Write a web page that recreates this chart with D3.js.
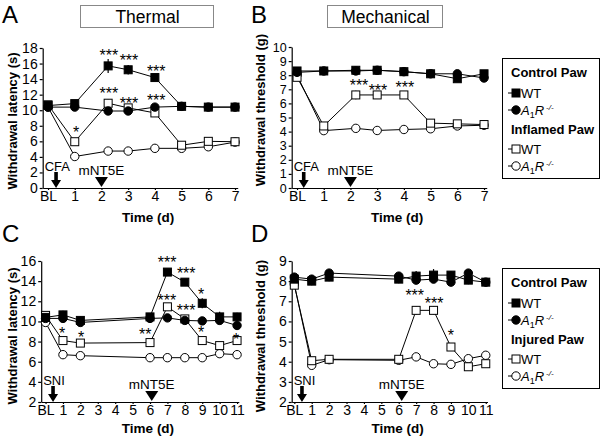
<!DOCTYPE html>
<html><head><meta charset="utf-8">
<script src="https://cdn.jsdelivr.net/npm/d3@7"></script>
<style>
body{margin:0;background:#fff}
svg{font-family:"Liberation Sans",Arial,Helvetica,sans-serif}
</style></head><body>
<svg id="c" width="600" height="440"></svg>
<script>
// ---------- DATA ----------
const tickLabels7 = ["BL","1","2","3","4","5","6","7"];
const tickLabels11 = ["BL","1","2","3","4","5","6","7","8","9","10","11"];

// Panel A (Thermal, CFA) — withdrawal latency (s)
const daysA = [0, 1, 2.25, 3, 4, 5, 6, 7];
const A_ctrlWT = [10.6, 10.85, 15.7, 15.2, 14.2, 10.5, 10.4, 10.4];
const A_ctrlKO = [10.4, 10.4, 9.9, 9.9, 10.4, 10.5, 10.4, 10.4];
const A_inflWT = [10.7, 5.95, 10.9, 10.3, 9.65, 5.5, 6.0, 5.95];
const A_inflKO = [10.4, 4.05, 4.75, 4.75, 5.1, 5.1, 5.3, 5.9];
const A_ctrlWT_err = [0.3, 0.4, 0.9, 0.6, 0.4, 0.3, 0.3, 0.3];
const A_ctrlKO_err = [0.2, 0.3, 0.3, 0.3, 0.3, 0.2, 0.2, 0.2];
const A_inflWT_err = [0.2, 0.4, 0.5, 0.5, 0.4, 0.3, 0.3, 0.3];
const A_inflKO_err = [0.2, 0.2, 0.2, 0.2, 0.2, 0.2, 0.2, 0.2];

// Panel B (Mechanical, CFA) — withdrawal threshold (g)
const daysB = [0, 1, 2.2, 3, 4, 5, 6, 7];
const B_ctrlWT = [8.3, 8.3, 8.35, 8.35, 8.25, 8.1, 7.75, 8.1];
const B_ctrlKO = [8.2, 8.3, 8.3, 8.35, 8.25, 8.1, 8.1, 7.8];
const B_inflWT = [7.85, 4.4, 6.6, 6.6, 6.6, 4.6, 4.55, 4.5];
const B_inflKO = [8.0, 4.07, 4.23, 4.08, 4.15, 4.2, 4.4, 4.45];
const B_ctrlWT_err = [0.15, 0.15, 0.15, 0.15, 0.15, 0.2, 0.2, 0.2];
const B_ctrlKO_err = [0.15, 0.15, 0.15, 0.15, 0.15, 0.2, 0.2, 0.2];
const B_inflWT_err = [0.15, 0.15, 0.3, 0.15, 0.15, 0.15, 0.15, 0.15];
const B_inflKO_err = [0.1, 0.1, 0.1, 0.1, 0.1, 0.1, 0.1, 0.1];

// Panel C (Thermal, SNI) — withdrawal latency (s)
const daysC = [0, 1, 2, 6, 7, 8, 9, 10, 11];
const C_ctrlWT = [10.4, 10.65, 10.1, 10.45, 14.9, 13.9, 11.8, 10.45, 10.45];
const C_ctrlKO = [10.3, 10.3, 9.9, 10.3, 10.35, 10.1, 10.05, 10.1, 9.6];
const C_injWT = [10.6, 8.1, 7.85, 7.9, 11.45, 10.25, 8.1, 7.6, 8.1];
const C_injKO = [9.9, 6.7, 6.6, 6.4, 6.4, 6.4, 6.4, 6.8, 6.7];
const C_ctrlWT_err = [0.3, 0.4, 0.4, 0.3, 0.3, 0.3, 0.5, 0.5, 0.4];
const C_ctrlKO_err = [0.3, 0.3, 0.3, 0.3, 0.3, 0.3, 0.4, 0.4, 0.4];
const C_injWT_err = [0.3, 0.3, 0.3, 0.3, 0.3, 0.3, 0.4, 0.3, 0.4];
const C_injKO_err = [0.2, 0.3, 0.2, 0.2, 0.4, 0.2, 0.2, 0.4, 0.3];

// Panel D (Mechanical, SNI) — withdrawal threshold (g)
const daysD = [0, 1, 2, 6, 7, 8, 9, 10, 11];
const D_ctrlWT = [8.1, 8.0, 8.2, 8.1, 8.25, 8.3, 8.3, 8.05, 7.95];
const D_ctrlKO = [8.2, 8.1, 8.4, 8.25, 8.05, 8.1, 7.95, 8.4, 7.95];
const D_injWT = [7.8, 4.05, 4.12, 4.12, 6.55, 6.55, 4.73, 3.75, 3.9];
const D_injKO = [7.85, 3.82, 4.1, 4.07, 4.24, 3.9, 3.87, 4.15, 4.32];
const D_ctrlWT_err = [0.2, 0.2, 0.2, 0.2, 0.25, 0.3, 0.2, 0.2, 0.2];
const D_ctrlKO_err = [0.2, 0.2, 0.2, 0.2, 0.2, 0.2, 0.2, 0.2, 0.2];
const D_injWT_err = [0.1, 0.1, 0.1, 0.1, 0.2, 0.2, 0.2, 0.15, 0.1];
const D_injKO_err = [0.1, 0.1, 0.1, 0.1, 0.1, 0.1, 0.1, 0.1, 0.1];

// significance annotations [x(day), y(value), text]
const A_stars = [[2.28,17.5,"***"],[3.03,16.8,"***"],[4.05,15.4,"***"],[2.28,12.6,"***"],[3.03,11.3,"***"],[4.05,11.7,"***"],[1.05,7.6,"*"]];
const B_stars = [[2.32,7.5,"***"],[3.03,7.13,"***"],[4.04,7.38,"***"]];
const C_stars = [[0.95,9.15,"*"],[2.04,8.75,"*"],[5.72,9.05,"**"],[6.98,16.2,"***"],[8.08,15.1,"***"],[6.97,12.4,"***"],[8.07,11.43,"***"],[8.94,13.0,"*"],[8.94,9.25,"*"],[10.95,8.55,"*"]];
const D_stars = [[6.92,7.45,"***"],[8.03,7.05,"***"],[9.0,5.5,"*"]];

// ---------- DRAWING ----------
const svg = d3.select("#c");

function mk(vals, err, shape, filled){ return {vals, err, shape, filled}; }

const panels = [
 {letter:"A", lx:2, days:daysA, xDomain:[-0.2,7.1], xRange:[42.7,237.7], yDomain:[0,18], yRange:[188,48], yFs:14,
  yTicks:d3.range(0,19,2), xTicks:d3.range(0,8), xLabels:tickLabels7, yTitle:"Withdrawal latency (s)", ytX:12, ytY:121,
  series:[mk(A_inflKO,A_inflKO_err,"c",false),mk(A_inflWT,A_inflWT_err,"s",false),mk(A_ctrlKO,A_ctrlKO_err,"c",true),mk(A_ctrlWT,A_ctrlWT_err,"s",true)],
  stars:A_stars, induce:"CFA", induceX:0.3, drugX:2.0},
 {letter:"B", lx:251, days:daysB, xDomain:[-0.2,7.1], xRange:[291.7,486.7], yDomain:[0,10], yRange:[188,47], yFs:12.5,
  yTicks:d3.range(0,11,1), xTicks:d3.range(0,8), xLabels:tickLabels7, yTitle:"Withdrawal threshold (g)", ytX:260, ytY:110,
  series:[mk(B_inflKO,B_inflKO_err,"c",false),mk(B_inflWT,B_inflWT_err,"s",false),mk(B_ctrlKO,B_ctrlKO_err,"c",true),mk(B_ctrlWT,B_ctrlWT_err,"s",true)],
  stars:B_stars, induce:"CFA", induceX:0.25, drugX:2.0},
 {letter:"C", lx:2, days:daysC, xDomain:[-0.25,11.1], xRange:[41.2,238.8], yDomain:[2,16], yRange:[402,261], yFs:14,
  yTicks:d3.range(2,17,2), xTicks:d3.range(0,12), xLabels:tickLabels11, yTitle:"Withdrawal latency (s)", ytX:12, ytY:336,
  series:[mk(C_injKO,C_injKO_err,"c",false),mk(C_injWT,C_injWT_err,"s",false),mk(C_ctrlKO,C_ctrlKO_err,"c",true),mk(C_ctrlWT,C_ctrlWT_err,"s",true)],
  stars:C_stars, induce:"SNI", induceX:0.43, drugX:6.1},
 {letter:"D", lx:251, days:daysD, xDomain:[-0.15,11.1], xRange:[291.7,487.5], yDomain:[2,9], yRange:[402,261], yFs:14,
  yTicks:d3.range(2,10,1), xTicks:d3.range(0,12), xLabels:tickLabels11, yTitle:"Withdrawal threshold (g)", ytX:260, ytY:336,
  series:[mk(D_injKO,D_injKO_err,"c",false),mk(D_injWT,D_injWT_err,"s",false),mk(D_ctrlKO,D_ctrlKO_err,"c",true),mk(D_ctrlWT,D_ctrlWT_err,"s",true)],
  stars:D_stars, induce:"SNI", induceX:0.44, drugX:6.17}
];

function drawMarker(sel, shape, filled){
  if(shape==="s"){
    sel.append("rect").attr("x",-4).attr("y",-4).attr("width",8).attr("height",8)
      .attr("fill",filled?"#000":"#fff").attr("stroke","#000").attr("stroke-width",1);
  } else {
    sel.append("circle").attr("r",4.2)
      .attr("fill",filled?"#000":"#fff").attr("stroke","#000").attr("stroke-width",1);
  }
}

panels.forEach(p=>{
  const x = d3.scaleLinear().domain(p.xDomain).range(p.xRange);
  const y = d3.scaleLinear().domain(p.yDomain).range(p.yRange);
  const g = svg.append("g");
  const base = p.yRange[0];

  // panel letter
  g.append("text").attr("x",p.lx).attr("y",base<300?23:242).attr("font-size",24).text(p.letter);

  // axes
  const ya = g.append("g").attr("transform",`translate(${p.xRange[0]},0)`)
    .call(d3.axisLeft(y).tickValues(p.yTicks).tickFormat(d3.format("d")).tickSize(3).tickPadding(2).tickSizeOuter(0));
  const xa = g.append("g").attr("transform",`translate(0,${base})`)
    .call(d3.axisBottom(x).tickValues(p.xTicks).tickFormat((d,i)=>p.xLabels[i]).tickSize(2).tickPadding(1).tickSizeOuter(0));
  ya.selectAll("text").attr("font-size",p.yFs);
  xa.selectAll("text").attr("font-size",14);
  [ya,xa].forEach(a=>{
    a.selectAll("text").attr("font-family","Liberation Sans, Arial, sans-serif").attr("fill","#000");
    a.selectAll("path,line").attr("stroke","#000").attr("stroke-width",1.2);
  });

  // axis titles
  g.append("text").attr("transform",`translate(${p.ytX},${p.ytY}) rotate(-90)`).attr("text-anchor","middle")
    .attr("dominant-baseline","central").attr("font-size",13).attr("font-weight","bold").text(p.yTitle);
  g.append("text").attr("x",(p.xRange[0]+p.xRange[1])/2+8).attr("y",base+(base<300?34:31)).attr("text-anchor","middle")
    .attr("font-size",13.5).attr("font-weight","bold").text("Time (d)");

  // induction arrow + label
  const ax = x(p.induceX);
  g.append("path").attr("d",`M${ax-1.8},${base-16}L${ax+1.8},${base-16}L${ax+1.8},${base-8}L${ax+5},${base-8}L${ax},${base}L${ax-5},${base-8}L${ax-1.8},${base-8}Z`).attr("fill","#000");
  g.append("text").attr("x",p.xRange[0]+2).attr("y",base-17).attr("font-size",13).text(p.induce);
  const tx = x(p.drugX);
  g.append("path").attr("d",`M${tx-6.5},${base-11}L${tx+6.5},${base-11}L${tx},${base-1}Z`).attr("fill","#000");
  g.append("text").attr("x",tx).attr("y",base-13.5).attr("text-anchor","middle").attr("font-size",13.5).text("mNT5E");

  // lines
  const line = d3.line().x((d,i)=>x(p.days[i])).y(d=>y(d));
  p.series.forEach(s=>{
    g.append("path").attr("d",line(s.vals)).attr("fill","none").attr("stroke","#000").attr("stroke-width",1);
  });
  // error bars
  p.series.forEach(s=>{
    s.vals.forEach((v,i)=>{
      const cx=x(p.days[i]);
      g.append("line").attr("x1",cx).attr("x2",cx).attr("y1",y(v-s.err[i])).attr("y2",y(v+s.err[i]))
        .attr("stroke","#000").attr("stroke-width",1.2);
    });
  });
  // markers
  p.series.forEach(s=>{
    s.vals.forEach((v,i)=>{
      const m = g.append("g").attr("transform",`translate(${x(p.days[i])},${y(v)})`);
      drawMarker(m,s.shape,s.filled);
    });
  });
  // stars
  p.stars.forEach(([d,v,t])=>{
    g.append("text").attr("x",x(d)).attr("y",y(v)+9).attr("text-anchor","middle")
      .attr("font-size",16).text(t);
  });
});

// title boxes
[["Thermal",80,133],["Mechanical",327,115]].forEach(([t,x0,w])=>{
  svg.append("rect").attr("x",x0+0.5).attr("y",5.5).attr("width",w).attr("height",22)
    .attr("fill","none").attr("stroke","#888").attr("stroke-width",1);
  svg.append("text").attr("x",x0+w/2+1).attr("y",22.5).attr("text-anchor","middle").attr("font-size",17.5).text(t);
});

// legends
function legend(y0, group2){
  const x0 = 502;
  const lg = svg.append("g");
  lg.append("rect").attr("x",x0+0.5).attr("y",y0+0.5).attr("width",97).attr("height",120)
    .attr("fill","#fff").attr("stroke","#000").attr("stroke-width",1);
  const rows = [
    {t:"Control Paw", dy:19, head:true},
    {t:"WT", dy:35, shape:"s", filled:true},
    {t:"A1R", dy:52, shape:"c", filled:true},
    {t:group2, dy:76, head:true},
    {t:"WT", dy:91, shape:"s", filled:false},
    {t:"A1R", dy:108, shape:"c", filled:false}
  ];
  rows.forEach(r=>{
    if(r.head){
      lg.append("text").attr("x",x0+9).attr("y",y0+r.dy).attr("font-size",13).attr("font-weight","bold").text(r.t);
      return;
    }
    const cy = y0+r.dy;
    lg.append("line").attr("x1",x0+6).attr("x2",x0+13).attr("y1",cy).attr("y2",cy).attr("stroke","#000");
    const m = lg.append("g").attr("transform",`translate(${x0+14},${cy})`);
    drawMarker(m,r.shape,r.filled);
    const tx = lg.append("text").attr("x",x0+19).attr("y",cy+5).attr("font-size",13);
    if(r.t==="WT"){ tx.text("WT"); }
    else {
      tx.append("tspan").attr("font-style","italic").text("A");
      tx.append("tspan").attr("font-size",9).attr("dy",3).text("1");
      tx.append("tspan").attr("font-style","italic").attr("dy",-3).text("R");
      tx.append("tspan").attr("font-size",8).attr("font-style","italic").attr("dy",-5).attr("dx",2).text("-/-");
    }
  });
}
legend(58, "Inflamed Paw");
legend(268, "Injured Paw");
</script>
</body></html>
